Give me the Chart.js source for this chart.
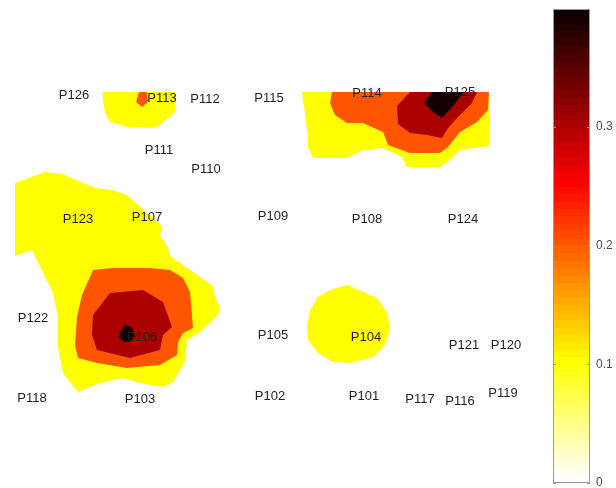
<!DOCTYPE html>
<html>
<head>
<meta charset="utf-8">
<script src="https://cdn.jsdelivr.net/npm/chart.js@4/dist/chart.umd.min.js"></script>
<style>
  html, body { margin: 0; padding: 0; background: #fff; }
  #wrap { position: relative; width: 616px; height: 488px; overflow: hidden; }
  #main { position: absolute; left: 0; top: 0; }
  #cbar { position: absolute; left: 540px; top: 0; }
</style>
</head>
<body>
<div id="wrap">
  <canvas id="main" width="540" height="488"></canvas>
  <canvas id="cbar" width="76" height="488"></canvas>
</div>
<script>
// ---- Electrode labels and positions (layout units) ----
const electrodeNames = ['P126','P113','P112','P115','P114','P125','P111','P110','P123','P107','P109','P108','P124',
  'P122','P106','P105','P104','P121','P120','P118','P103','P102','P101','P117','P116','P119'];
const electrodeX = [74,162,205,269,367,460,159,206,78,147,273,367,463,33,142,273,366,464,506,32,140,270,364,420,460,503];
const electrodeY = [95,98,99,98,93,92,150,169,219,217,216,219,219,318,337,335,337,345,345,398,399,396,396,399,401,393];

// ---- Contour levels & colorbar ----
const contourLevels = [0.1, 0.2, 0.3, 0.39];
const colorbarMax = 0.399;
const colorbarTicks = [0, 0.1, 0.2, 0.3];

// ---- Filled contour regions (layout units), per level ----
const level1Regions = [
  [[15,183],[45,172],[62,174],[95,188],[112,190],[127,195],[145,211],[162,226],[160,236],[168,247],[170,256],[213,286],[215,296],[220,308],[218,315],[200,332],[187,340],[185,362],[173,382],[163,387],[140,383],[123,378],[100,383],[78,392],[63,373],[58,347],[58,317],[53,293],[32,250],[15,256]],
  [[103,92],[176,92],[176,97],[175,112],[160,125],[153,128],[127,127],[110,122],[105,113],[103,100]],
  [[302,92],[489,92],[489,146],[460,150],[450,160],[440,167],[407,167],[402,157],[383,148],[363,150],[347,158],[313,158],[308,147],[308,137],[305,113]],
  [[347,285],[377,298],[387,313],[390,328],[385,345],[373,357],[350,363],[333,362],[318,353],[308,340],[307,327],[310,310],[318,297],[330,290]]
];
const level2Regions = [
  [[93,270],[113,268],[150,268],[170,270],[183,278],[190,292],[193,328],[183,333],[178,342],[177,355],[160,365],[127,368],[97,363],[78,358],[75,345],[77,317],[82,295]],
  [[139,92],[147,92],[148,102],[142,107],[136,102]],
  [[332,92],[489,92],[488,110],[477,122],[460,132],[448,147],[440,153],[410,153],[388,145],[383,132],[363,123],[347,123],[335,115],[330,103]]
];
const level3Regions = [
  [[110,293],[143,290],[163,302],[172,327],[163,335],[160,350],[130,358],[97,350],[92,335],[93,315]],
  [[410,92],[477,92],[472,103],[458,117],[448,128],[442,138],[427,135],[410,133],[398,124],[397,106]]
];
const level4Regions = [
  [[125,325],[132,327],[135,336],[130,342],[124,342],[119,337],[121,330]],
  [[424,103],[432,92],[463,92],[455,104],[442,118],[433,112]]
];

// reversed "hot" colormap, 64 entries (index 0 = value 0)
function hotReversed(i) {
  const k = 63 - i;
  const r = k < 24 ? (k + 1) / 24 : 1;
  const g = k < 24 ? 0 : (k < 48 ? (k - 23) / 24 : 1);
  const b = k < 48 ? 0 : (k - 47) / 16;
  return 'rgb(' + Math.round(r*255) + ',' + Math.round(g*255) + ',' + Math.round(b*255) + ')';
}
function colorFor(v) {
  let i = Math.floor(v / colorbarMax * 64);
  i = Math.max(0, Math.min(63, i));
  return hotReversed(i);
}

const regionsByLevel = [level1Regions, level2Regions, level3Regions, level4Regions];
const datasets = [];
regionsByLevel.forEach((regions, li) => {
  const col = colorFor(contourLevels[li]);
  regions.forEach(poly => {
    const pts = poly.map(p => ({x: p[0], y: p[1]}));
    pts.push({x: poly[0][0], y: poly[0][1]});
    datasets.push({
      data: pts,
      showLine: true,
      fill: 'shape',
      backgroundColor: col,
      borderColor: 'rgba(0,0,0,0)',
      borderWidth: 0,
      pointRadius: 0,
      tension: 0,
      order: 10 - li
    });
  });
});

const labelPlugin = {
  id: 'electrodeLabels',
  afterDatasetsDraw(chart) {
    const {ctx, scales} = chart;
    ctx.save();
    ctx.font = '13px "Liberation Sans", Arial, sans-serif';
    ctx.fillStyle = '#1f1f1f';
    ctx.textAlign = 'center';
    ctx.textBaseline = 'middle';
    electrodeNames.forEach((n, i) => {
      ctx.fillText(n, scales.x.getPixelForValue(electrodeX[i]), scales.y.getPixelForValue(electrodeY[i]));
    });
    ctx.restore();
  }
};

new Chart(document.getElementById('main'), {
  type: 'scatter',
  data: { datasets },
  options: {
    responsive: false,
    animation: false,
    devicePixelRatio: 1,
    layout: { padding: 0 },
    plugins: { legend: { display: false }, tooltip: { enabled: false } },
    events: [],
    scales: {
      x: { type: 'linear', min: 0, max: 540, display: false },
      y: { type: 'linear', min: 0, max: 488, reverse: true, display: false }
    }
  },
  plugins: [labelPlugin]
});

// ---- Colorbar ----
const cbPlugin = {
  id: 'cbFrame',
  afterDatasetsDraw(chart) {
    const {ctx, chartArea: a, scales} = chart;
    ctx.save();
    ctx.strokeStyle = '#9a9a9a';
    ctx.lineWidth = 1;
    ctx.strokeRect(a.left + 0.5, a.top + 0.5, a.right - a.left - 1, a.bottom - a.top - 1);
    colorbarTicks.forEach(t => {
      const y = Math.round(scales.y.getPixelForValue(t)) + 0.5;
      ctx.beginPath();
      ctx.moveTo(a.left, y); ctx.lineTo(a.left + 3, y);
      ctx.moveTo(a.right - 3, y); ctx.lineTo(a.right, y);
      ctx.stroke();
    });
    ctx.restore();
  }
};

new Chart(document.getElementById('cbar'), {
  type: 'bar',
  data: {
    labels: [''],
    datasets: [{
      data: [colorbarMax],
      barPercentage: 1,
      categoryPercentage: 1,
      borderWidth: 0,
      backgroundColor(ctx) {
        const a = ctx.chart.chartArea;
        if (!a) return '#fff';
        const g = ctx.chart.ctx.createLinearGradient(0, a.bottom, 0, a.top);
        for (let i = 0; i < 64; i++) {
          const c = hotReversed(i);
          g.addColorStop(i / 64, c);
          g.addColorStop(Math.max(i / 64, (i + 1) / 64 - 0.0001), c);
        }
        return g;
      }
    }]
  },
  options: {
    responsive: false,
    animation: false,
    devicePixelRatio: 1,
    events: [],
    layout: { padding: { left: 13, top: 9, bottom: 5, right: 0 } },
    plugins: { legend: { display: false }, tooltip: { enabled: false } },
    scales: {
      x: { display: false },
      y: {
        position: 'right',
        min: 0,
        max: colorbarMax,
        afterFit(scale) { scale.width = 26; scale.paddingTop = 0; scale.paddingBottom = 0; },
        afterBuildTicks(scale) { scale.ticks = colorbarTicks.map(v => ({value: v})); },
        grid: { display: false, drawTicks: false },
        border: { display: false },
        ticks: {
          padding: 6,
          color: '#4d4d4d',
          font: { family: '"Liberation Sans", Arial, sans-serif', size: 12 },
          callback: v => String(v)
        }
      }
    }
  },
  plugins: [cbPlugin]
});
</script>
</body>
</html>
